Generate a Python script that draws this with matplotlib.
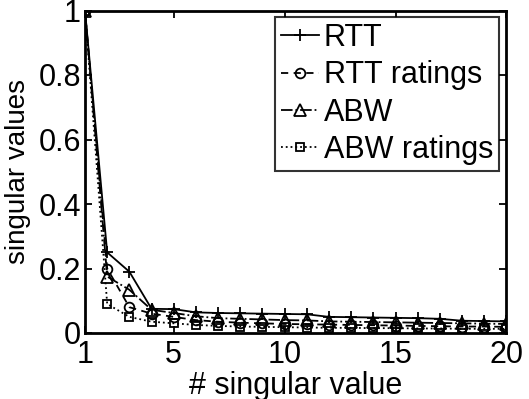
import matplotlib
matplotlib.use("Agg")
import matplotlib.pyplot as plt

x = list(range(1, 21))
rtt = [1.0, 0.25, 0.19, 0.075, 0.074, 0.064, 0.062, 0.061, 0.060, 0.059, 0.058,
       0.050, 0.049, 0.048, 0.047, 0.046, 0.044, 0.038, 0.037, 0.036]
rtt_ratings = [1.0, 0.20, 0.08, 0.06, 0.05, 0.040, 0.035, 0.032, 0.030, 0.028, 0.027,
               0.026, 0.025, 0.024, 0.023, 0.022, 0.021, 0.020, 0.020, 0.019]
abw = [1.0, 0.175, 0.134, 0.072, 0.062, 0.052, 0.046, 0.044, 0.042, 0.040, 0.039,
       0.036, 0.035, 0.034, 0.033, 0.032, 0.031, 0.030, 0.029, 0.028]
abw_ratings = [1.0, 0.09, 0.05, 0.035, 0.030, 0.025, 0.022, 0.020, 0.019, 0.018, 0.017,
               0.016, 0.016, 0.015, 0.015, 0.014, 0.014, 0.013, 0.013, 0.013]

plt.rcParams['font.family'] = ['Liberation Sans', 'DejaVu Sans']
fig = plt.figure(figsize=(5.29, 3.99), dpi=100)
L, R, T, B = 85, 506.5, 10.5, 333
ax = fig.add_axes([L/529, 1 - B/399, (R-L)/529, (B-T)/399])

lw = 1.3
ms = 7
ax.plot(x, rtt, color='black', linestyle='-', marker='+', markersize=9, lw=lw, mew=1.3, label='RTT')
ax.plot(x, rtt_ratings, color='black', linestyle=(0, (4, 3)), marker='o', markersize=ms, lw=lw,
        fillstyle='none', mew=1.3, label='RTT ratings')
ax.plot(x, abw, color='black', linestyle='-.', marker='^', markersize=ms + 1, lw=lw,
        fillstyle='none', mew=1.3, label='ABW')
ax.plot(x, abw_ratings, color='black', linestyle=':', marker='s', markersize=ms - 1, lw=lw,
        fillstyle='none', mew=1.3, label='ABW ratings')

fs = 22
ax.set_xlim(1, 20)
ax.set_ylim(0, 1)
ax.set_xticks([1, 5, 10, 15, 20])
ax.set_yticks([0, 0.2, 0.4, 0.6, 0.8, 1])
ax.set_yticklabels(['0', '0.2', '0.4', '0.6', '0.8', '1'])
ax.tick_params(direction='in', labelsize=fs, length=5, width=1.3, top=True, right=True, pad=5)
ax.tick_params(axis='y', pad=3)
for s in ax.spines.values():
    s.set_linewidth(2)
ax.set_xlabel('# singular value', fontsize=fs, labelpad=1)
ax.set_ylabel('singular values', fontsize=20, labelpad=5)

anchor = ((499 - L) / (R - L), (B - 17) / (B - T))
leg = ax.legend(loc='upper right', bbox_to_anchor=anchor, fontsize=fs, frameon=True, fancybox=False,
                edgecolor='black', handlelength=1.24, handletextpad=0.15, borderpad=0.2,
                labelspacing=0.24, borderaxespad=0)
leg.get_frame().set_linewidth(1.5)

fig.savefig('out.png', dpi=100)
